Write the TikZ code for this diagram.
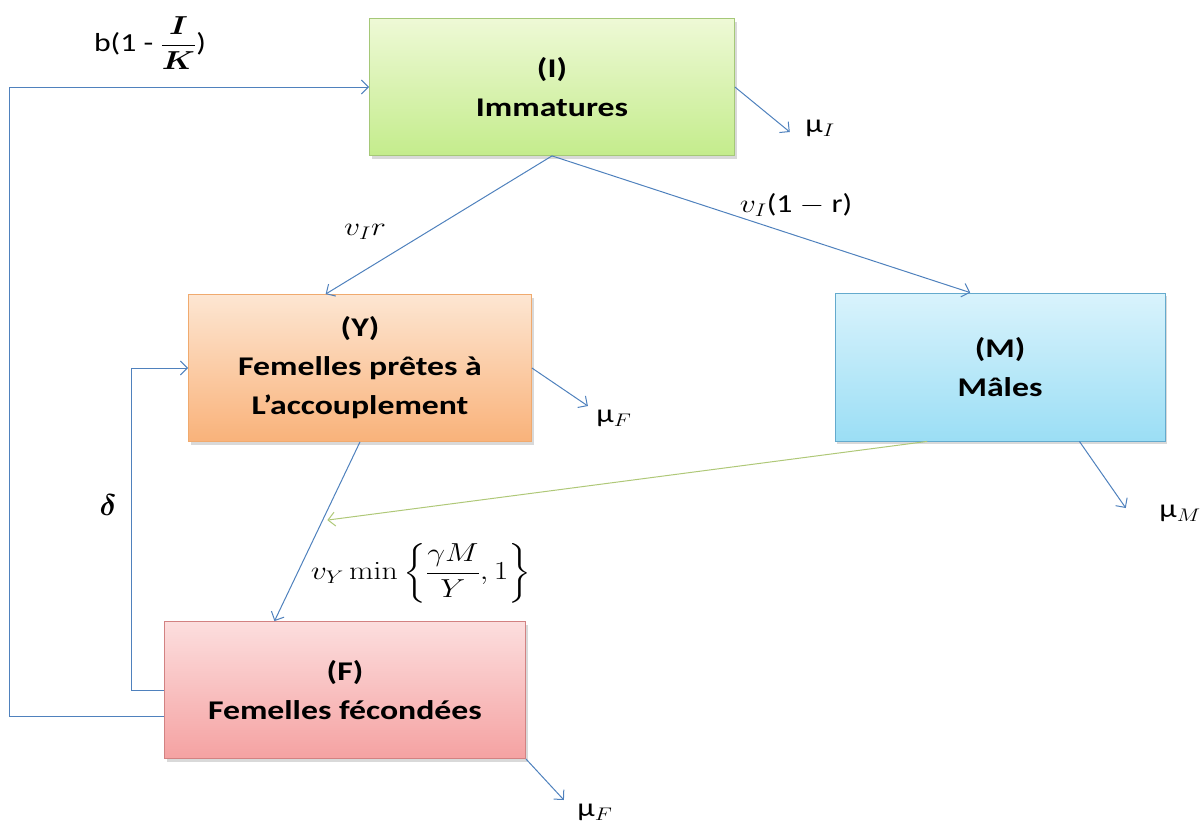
\RequirePackage{fix-cm}
\documentclass[tikz,border=0pt]{standalone}
\usepackage{amsmath}
\usepackage{bm}
\usepackage[no-math]{fontspec}
\setmainfont{Carlito}
\newfontfamily\boxfont{Carlito}[FakeStretch=1.25]
\usetikzlibrary{arrows.meta,calc,shadows}

\definecolor{flowblue}{HTML}{4F81BD}
\definecolor{mategreen}{HTML}{AFC878}
\definecolor{Iline}{RGB}{165,200,120}
\definecolor{Itop}{RGB}{238,249,214}
\definecolor{Ibot}{RGB}{196,236,140}
\definecolor{Yline}{RGB}{240,170,110}
\definecolor{Ytop}{RGB}{253,230,210}
\definecolor{Ybot}{RGB}{249,178,122}
\definecolor{Mline}{RGB}{100,170,205}
\definecolor{Mtop}{RGB}{217,243,252}
\definecolor{Mbot}{RGB}{155,222,245}
\definecolor{Fline}{RGB}{210,130,130}
\definecolor{Ftop}{RGB}{252,222,222}
\definecolor{Fbot}{RGB}{245,162,162}
\newcommand{\widen}[1]{\scalebox{1.22}[1]{#1}}

\tikzset{
    compart/.style={draw, rectangle, align=center, line width=0.8pt,
        font=\fontsize{27}{39}\boxfont\bfseries,
        drop shadow={shadow xshift=2pt, shadow yshift=-3pt, opacity=0.3}},
    flow/.style={draw=flowblue, line width=1pt, -{Straight Barb[length=7pt,width=14pt]}},
    mateflow/.style={flow, draw=mategreen},
    rate/.style={font=\fontsize{26}{32}\selectfont},
}

\begin{document}
\begin{tikzpicture}[x=1pt, y=-1pt]
    \useasboundingbox (0, 0) rectangle (1204, 830);
% compartments
\node[compart, draw=Iline, top color=Itop, bottom color=Ibot,
    minimum width=365pt, minimum height=137pt] (I) at (552, 87) {(I)\\Immatures};
\node[compart, draw=Yline, top color=Ytop, bottom color=Ybot,
    minimum width=343pt, minimum height=147pt] (Y) at (360, 368) {(Y)\\Femelles prêtes à\\L’accouplement};
\node[compart, draw=Mline, top color=Mtop, bottom color=Mbot,
    minimum width=330pt, minimum height=148pt] (M) at (1000, 367) {(M)\\Mâles};
\node[compart, draw=Fline, top color=Ftop, bottom color=Fbot,
    minimum width=361pt, minimum height=137pt] (F) at (345, 690) {(F)\\Femelles fécondées};
% rates
\node[rate] (birth) at (150, 43) {\widen{b(1 - $\dfrac{\bm{I}}{\bm{K}}$)}};
\node[rate] (rY) at (365, 232) {\widen{$v_I r$}};
\node[rate] (rM) at (796, 205) {\widen{$v_I$(1 $-$ r)}};
\node[rate] (muI) at (820, 128) {\widen{μ$_I$}};
\node[rate] (muY) at (614, 418) {\widen{μ$_F$}};
\node[rate] (muM) at (1180, 513) {\widen{μ$_M$}};
\node[rate] (muF) at (595, 812) {\widen{μ$_F$}};
\node[rate, font=\fontsize{30}{32}\selectfont] (delta) at (108, 505) {$\bm{\delta}$};
\node[rate] (mate) at (421, 573) {\widen{$v_Y\min\left\{\dfrac{\gamma M}{Y},1\right\}$}};
\coordinate (Fin) at ($(F.north west)!0.305!(F.north east)$);
% flows
\draw[flow] (I.south) -- ($(Y.north west)!0.4!(Y.north east)$);
\draw[flow] (I.south) -- ($(M.north west)!0.41!(M.north east)$);
\draw[flow] (I.east) -- ($(muI.west)+(-12, 4)$);
\draw[flow] (Y.east) -- ($(muY.west)+(-5, -12)$);
\draw[flow] ($(M.south west)!0.74!(M.south east)$) -- ($(muM.west)+(-30, -5)$);
\draw[flow] (F.south east) -- ($(muF.west)+(-10, -12)$);
\draw[flow] (Y.south) -- (Fin);
\draw[mateflow, shorten >=5pt] ($(M.south west)!0.28!(M.south east)$) -- ($(Y.south)!0.44!(Fin)$);
\draw[flow] ($(F.west)+(0, 26)$) -- ++(-155, 0) |- (I.west);
\draw[flow] (F.west) -- ++(-33, 0) |- (Y.west);
    \end{tikzpicture}
\end{document}
